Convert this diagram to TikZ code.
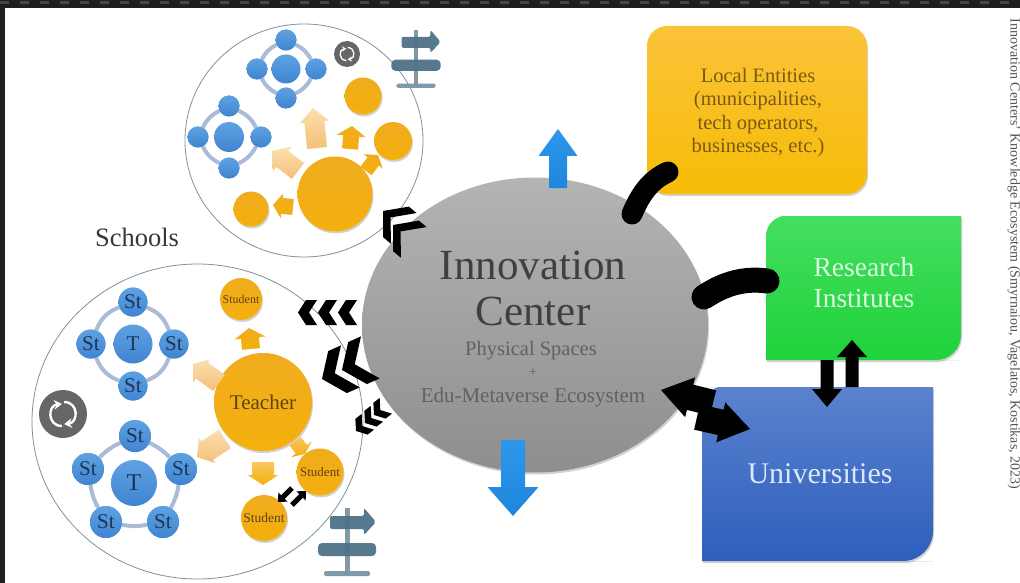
\documentclass[tikz,border=0pt]{standalone}
\usepackage{fontspec}
\setmainfont{Liberation Serif}
\usetikzlibrary{shapes.geometric,arrows.meta,shadows,calc}
\definecolor{ringc}{HTML}{A9BBD6}
\definecolor{blueT}{HTML}{5FA2E2}
\definecolor{blueB}{HTML}{3F84D0}
\definecolor{goldT}{HTML}{F0AC1E}
\definecolor{goldB}{HTML}{F4B00C}
\definecolor{peachT}{HTML}{FBE0B0}
\definecolor{peachB}{HTML}{F3C077}
\definecolor{navy}{HTML}{1C3557}
\definecolor{brownT}{HTML}{5E4213}
\definecolor{signc}{HTML}{4F7288}
\definecolor{edgec}{HTML}{7A93A3}
\definecolor{midG}{HTML}{F8C860}
\definecolor{locT}{HTML}{FBC33A}
\definecolor{locB}{HTML}{F6BC06}
\definecolor{locTx}{HTML}{7A5A12}
\definecolor{resT}{HTML}{45DE60}
\definecolor{resB}{HTML}{1FD23A}
\definecolor{resTx}{HTML}{DDFBE0}
\definecolor{uniT}{HTML}{5B82CE}
\definecolor{uniB}{HTML}{2D5FBC}
\definecolor{uniTx}{HTML}{DCE9FA}
\definecolor{cenT}{HTML}{B4B4B4}
\definecolor{cenB}{HTML}{8E8E8E}
\definecolor{arrT}{HTML}{2E97EC}
\definecolor{arrB}{HTML}{1E86DC}
\newcommand{\fsz}[1]{\fontsize{#1}{#1}\selectfont}
\tikzset{
  x=1pt,y=-1pt,
  softshadow/.style={general shadow={fill=black,opacity=.18,shadow xshift=1pt,shadow yshift=-2pt}},
  blueball/.style={circle,inner sep=0pt,top color=blueT,bottom color=blueB,text=navy},
  goldball/.style={circle,inner sep=0pt,top color=goldT,bottom color=goldB,text=brownT,softshadow},
  ringline/.style={draw=ringc,line width=4pt},
  sausage/.style={line width=21pt,line cap=round,draw=black},
  peach/.style={top color=peachT,bottom color=peachB},
  gold/.style={top color=goldT,bottom color=goldB},
  midgold/.style={top color=midG,bottom color=goldB},
  inkfill/.style={fill=black},
  skyfill/.style={top color=arrT,bottom color=arrB},
  zone/.style={ellipse,draw=edgec,line width=.8pt,inner sep=0pt},
  label/.style={align=center,inner sep=0pt},
}
% block arrow: base x,y tip x,y shaft head headlen style
\newcommand{\barrow}[8]{%
  \pgfmathsetmacro\bang{atan2(-((#4)-(#2)),(#3)-(#1))}%
  \pgfmathsetmacro\blen{veclen((#3)-(#1),(#4)-(#2))}%
  \path[#8,shift={(#1,#2)},rotate=\bang]
    (0,#5/2)--(\blen-#7,#5/2)--(\blen-#7,#6/2)--(\blen,0)--(\blen-#7,-#6/2)--(\blen-#7,-#5/2)--(0,-#5/2)--cycle;}
% chevron: tip x,y pointing direction halfwidth arm thickness
\newcommand{\chev}[6]{%
  \path[fill=black,shift={(#1,#2)},rotate=#3-180]
    (0,0)--(#5,#4)--(#5+#6,#4)--(#6,0)--(#5+#6,-#4)--(#5,-#4)--cycle;}
\newcommand{\signpost}[3]{%
  \begin{scope}[shift={(#1,#2)},scale=#3,opacity=.95]
    \fill[signc!75] (-2.5,0) rectangle (2.5,67);
    \fill[signc,rounded corners=2pt] (-17,8)--(17,8)--(17,0)--(29,14)--(17,27)--(17,21)--(-17,21)--cycle;
    \fill[signc,rounded corners=4pt] (-29,35) rectangle (29,48);
    \fill[signc!75,rounded corners=1.5pt] (-23,63) rectangle (23,68);
  \end{scope}}
\newcommand{\refresh}[4]{%
  \node[circle,fill=black!60,minimum size=2*#3,inner sep=0pt] (#4) at (#1,#2) {};
  \draw[white,line width=.1*#3,-{Stealth[length=.32*#3,width=.4*#3]}]
    ($(#4)+(-.05*#3,.5*#3)$) .. controls ($(#4)+(-.65*#3,.5*#3)$) and ($(#4)+(-.65*#3,-.35*#3)$) .. ($(#4)+(-.05*#3,-.42*#3)$);
  \draw[white,line width=.1*#3,-{Stealth[length=.32*#3,width=.4*#3]}]
    ($(#4)+(.05*#3,-.5*#3)$) .. controls ($(#4)+(.65*#3,-.5*#3)$) and ($(#4)+(.65*#3,.35*#3)$) .. ($(#4)+(.05*#3,.42*#3)$);}
\begin{document}
\begin{tikzpicture}
\useasboundingbox (0,0) rectangle (1020,583);
\fill[black!88] (0,0) rectangle (1020,583);
\fill[white] (5,8) rectangle (1020,583);
\draw[black!72,line width=3pt,dash pattern=on 9pt off 11pt] (0,3)--(1020,3);

% zones
\node[zone,minimum width=238pt,minimum height=233pt] (upzone) at (304,140.5) {};
\node[zone,minimum width=331pt,minimum height=315pt] (lowzone) at (197.5,421.5) {};

% upper school groups
\foreach \n/\x/\y in {a1/286/40,a2/316/69,a3/286/98,a4/257/69}{\node[blueball,minimum size=21pt] (\n) at (\x,\y) {};}
\foreach \s/\t in {a1/a2,a2/a3,a3/a4,a4/a1}{\draw[ringline] (\s) to[bend left=18] (\t);}
\foreach \n/\x/\y in {a1/286/40,a2/316/69,a3/286/98,a4/257/69}{\node[blueball,minimum size=21pt] at (\x,\y) {};}
\node[blueball,minimum size=29pt] (ac) at (286,69) {};
\foreach \n/\x/\y in {b1/229/106,b2/261/137,b3/229/168,b4/198/137}{\node[blueball,minimum size=21pt] (\n) at (\x,\y) {};}
\foreach \s/\t in {b1/b2,b2/b3,b3/b4,b4/b1}{\draw[ringline] (\s) to[bend left=18] (\t);}
\foreach \n/\x/\y in {b1/229/106,b2/261/137,b3/229/168,b4/198/137}{\node[blueball,minimum size=21pt] at (\x,\y) {};}
\node[blueball,minimum size=30pt] (bc) at (229,137) {};
\refresh{347}{54}{13}{upicon}
\signpost{416}{30}{.85}

% upper gold circles
\node[goldball,minimum width=75pt,minimum height=71pt] (up0) at (335,194) {};
\node[goldball,minimum size=37pt] (up1) at (363,96) {};
\node[goldball,minimum size=38pt] (up2) at (393,141) {};
\node[goldball,minimum width=32pt,minimum height=35pt] (up3) at (251,209) {};
\barrow{317}{148}{313}{108}{20}{29}{14}{peach}
\barrow{298}{171}{272}{151}{20}{31}{13}{peach}
\barrow{350}{149}{352}{126}{16}{29}{10}{gold}
\barrow{366}{171}{378}{155}{14}{24}{8}{gold}
\barrow{293}{207}{273}{205}{16}{25}{9}{gold}

% lower school groups
\foreach \n/\x/\y in {c1/133/302,c2/174/344,c3/133/386,c4/91/344}{\node[blueball,minimum size=29pt] (\n) at (\x,\y) {};}
\foreach \s/\t in {c1/c2,c2/c3,c3/c4,c4/c1}{\draw[ringline] (\s) to[bend left=24] (\t);}
\foreach \n/\x/\y in {c1/133/302,c2/174/344,c3/133/386,c4/91/344}{\node[blueball,minimum size=29pt,font=\fsz{21}] at (\x,\y) {St};}
\node[blueball,minimum size=39pt,font=\fsz{21}] (cc) at (133,344) {T};
\foreach \n/\x/\y in {d1/135/436,d2/181/469,d3/163/522,d4/106/522,d5/88/469}{\node[blueball,minimum size=32pt] (\n) at (\x,\y) {};}
\foreach \s/\t in {d1/d2,d2/d3,d3/d4,d4/d5,d5/d1}{\draw[ringline] (\s) to[bend left=10] (\t);}
\foreach \n/\x/\y in {d1/135/436,d2/181/469,d3/163/522,d4/106/522,d5/88/469}{\node[blueball,minimum size=32pt,font=\fsz{21}] at (\x,\y) {St};}
\node[blueball,minimum size=46pt,font=\fsz{24}] (dc) at (134,483) {T};
\refresh{63}{414}{24}{lowicon}
\node[label,text=black!78,font=\fsz{26.5}] (schools) at (137,237) {Schools};

% teacher and students
\node[goldball,minimum size=98pt,font=\fsz{21}] (teacher) at (263,402) {Teacher};
\node[goldball,minimum size=42pt,font=\fsz{12}] (stu1) at (241,299) {Student};
\node[goldball,minimum size=47pt,font=\fsz{13}] (stu2) at (320,472) {Student};
\node[goldball,minimum size=46pt,font=\fsz{13.5}] (stu3) at (264,518) {Student};
\barrow{251}{349}{249}{328}{18}{31}{10}{gold}
\barrow{219}{383}{193}{364}{20}{28}{11}{peach}
\barrow{225}{439}{197}{457}{22}{30}{12}{peach}
\barrow{263}{462}{263}{485}{22}{31}{10}{midgold}
\barrow{295}{441}{305}{454}{14}{26}{6}{midgold}
\barrow{292}{488}{278}{502}{5}{13}{7}{inkfill}
\barrow{292}{505}{306}{491}{5}{13}{7}{inkfill}
\signpost{347}{508}{1}

% local entities
\node[shape=rectangle,rounded corners=20pt,minimum width=220pt,minimum height=168pt,top color=locT,bottom color=locB,softshadow,inner sep=0pt] (local) at (757,110) {};
\node[label,text=locTx,font=\fsz{20.5}] (localtxt) at (758,112.5) {Local Entities\\[3pt](municipalities,\\[3pt]tech operators,\\[3pt]businesses, etc.)};

% research institutes
\path[top color=resT,bottom color=resB,softshadow]
  (766,360) [sharp corners]--(766,236) [rounded corners=20pt]--(766,216)--(786,216) [sharp corners]--(961,216)--(961,335) [rounded corners=25pt]--(961,360)--(935,360) [sharp corners]--cycle;
\node[label,text=resTx,font=\fsz{27.5}] (research) at (864,283) {Research\\[3.5pt]Institutes};

% universities
\path[top color=uniT,bottom color=uniB,softshadow]
  (702,561) [sharp corners]--(702,407) [rounded corners=20pt]--(702,387)--(722,387) [sharp corners]--(933,387)--(933,531) [rounded corners=30pt]--(933,561)--(903,561) [sharp corners]--cycle;
\node[label,text=uniTx,font=\fsz{30}] (univ) at (820,474) {Universities};

% centre
\node[ellipse,minimum width=346pt,minimum height=295pt,top color=cenT,bottom color=cenB,softshadow,inner sep=0pt] (center) at (535,325) {};
\node[label,text=black!75,font=\fsz{43}] (t1) at (533,265) {Innovation};
\node[label,text=black!75,font=\fsz{43}] (t2) at (533,311) {Center};
\node[label,text=black!62,font=\fsz{20.5}] (t3) at (531,351) {Physical Spaces};
\node[label,text=black!62,font=\fsz{14}] (t4) at (533,373) {+};
\node[label,text=black!62,font=\fsz{21}] (t5) at (533,397) {Edu-Metaverse Ecosystem};

% blue arrows
\barrow{558}{188}{558}{129}{18}{39}{27}{skyfill}
\barrow{513}{440}{513}{516}{24}{51}{29}{skyfill}

% connectors to centre
\coordinate (sl1) at (668,172);
\coordinate (sl2) at (632,214);
\coordinate (sr1) at (767,281);
\coordinate (sr2) at (704,297);
\draw[sausage] (sl1) .. controls (650,180) and (640,195) .. (sl2);
\draw[sausage,line width=25pt] (sr1) .. controls (745,278) and (725,283) .. (sr2);

% chevrons
\foreach \t in {298,318,338}{\chev{\t}{312.5}{180}{12.5}{8}{11}}
\chev{322}{379}{204}{23}{17}{14}
\chev{342}{370}{204}{23}{17}{14}
\foreach \a/\b in {356/431,365/423,374/415}{\chev{\a}{\b}{218}{10}{7}{8}}
\chev{383}{211}{140}{20}{17}{10}
\chev{393}{225}{140}{20}{17}{10}

% double arrows
\barrow{713}{403}{661}{390}{26}{41}{30}{inkfill}
\barrow{697}{417}{750}{429}{26}{41}{30}{inkfill}
\barrow{827}{360}{827}{407}{13}{30}{18}{inkfill}
\barrow{852}{387}{852}{340}{13}{30}{17}{inkfill}

% side note
\node[rotate=-90,text=black!68,inner sep=0pt,font=\fsz{14}] (side) at (1014,254) {Innovation Centers' Knowledge Ecosystem (Smyrnaiou, Vagelatos, Kostikas, 2023)};
\end{tikzpicture}
\end{document}
